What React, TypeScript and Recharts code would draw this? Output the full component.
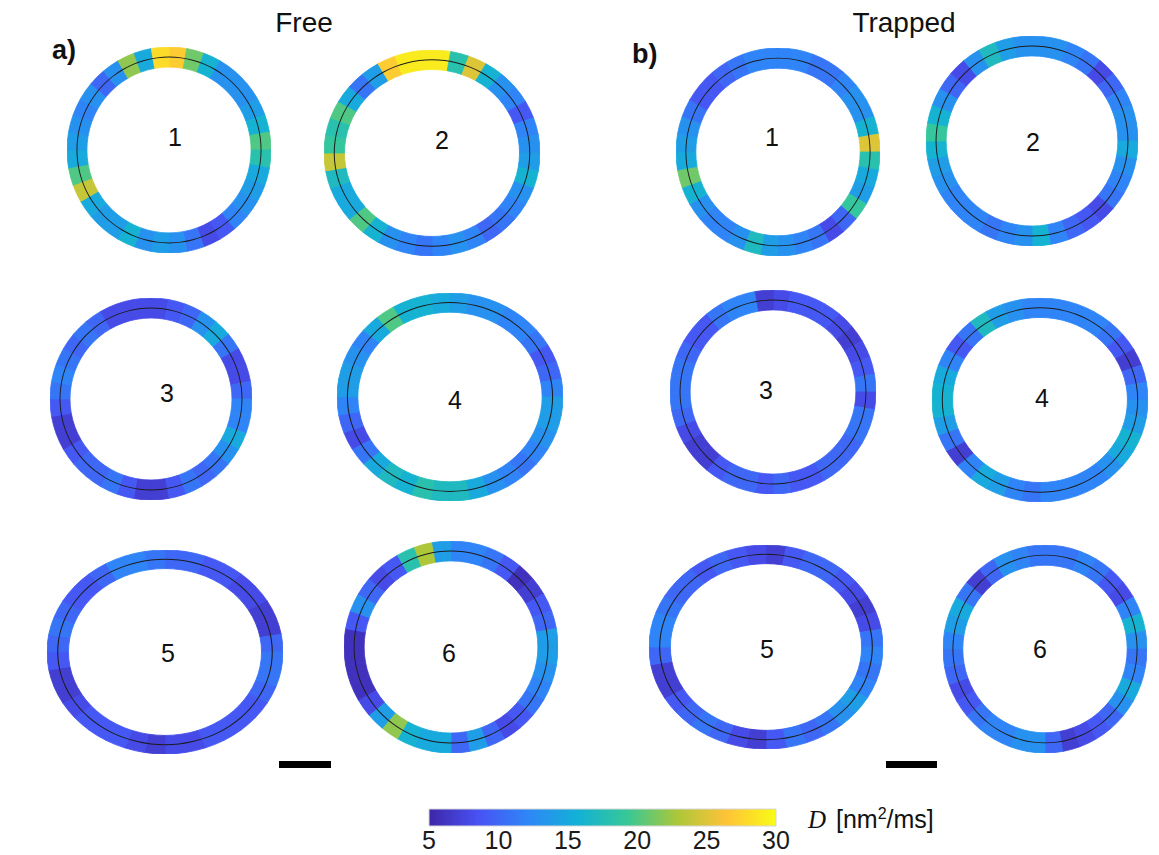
import { PieChart, Pie, Cell, BarChart, Bar, XAxis, YAxis } from "recharts";

// D (nm²/ms) read along each membrane, one value per 10°, clockwise from 12 o'clock
const free1 = [27, 21, 16, 13, 13, 13, 14, 16, 20, 18, 15, 14, 13, 12, 9, 8, 11, 13, 14, 13, 16, 14, 14, 15, 24, 20, 15, 14, 13, 12, 13, 10, 13, 22, 15, 28];
const free2 = [29, 18, 25, 16, 13, 12, 9, 12, 13, 14, 16, 13, 12, 11, 10, 12, 13, 12, 11, 12, 13, 16, 20, 15, 15, 17, 24, 19, 18, 20, 15, 11, 14, 27, 29, 29];
const free3 = [8, 9, 10, 13, 15, 11, 8, 8, 10, 12, 12, 15, 13, 11, 10, 11, 9, 7, 7, 9, 11, 10, 10, 9, 7, 7, 9, 11, 12, 11, 10, 11, 10, 8, 8, 8];
const free4 = [14, 13, 13, 12, 12, 11, 9, 10, 12, 14, 14, 13, 12, 11, 12, 13, 15, 17, 17, 18, 16, 17, 15, 11, 8, 10, 12, 14, 14, 13, 12, 15, 20, 16, 16, 15];
const free5 = [10, 10, 9, 9, 8, 8, 7, 7, 10, 11, 11, 10, 9, 9, 9, 9, 8, 8, 7, 8, 9, 9, 9, 8, 7, 7, 9, 10, 11, 10, 9, 9, 10, 12, 12, 11];
const free6 = [12, 12, 11, 9, 6, 7, 9, 10, 14, 14, 13, 12, 11, 9, 8, 10, 14, 10, 15, 15, 16, 22, 14, 8, 6, 6, 6, 6, 9, 13, 10, 8, 9, 18, 23, 14];

const trapped1 = [12, 12, 11, 11, 12, 13, 13, 16, 25, 18, 15, 14, 19, 10, 8, 11, 12, 13, 14, 17, 13, 12, 12, 13, 16, 21, 15, 14, 13, 11, 9, 9, 10, 11, 12, 12];
const trapped2 = [13, 13, 12, 11, 8, 10, 12, 13, 13, 15, 13, 12, 11, 8, 9, 10, 12, 16, 13, 12, 11, 12, 12, 12, 13, 14, 16, 19, 16, 13, 10, 8, 13, 17, 14, 13];
const trapped3 = [8, 9, 9, 9, 8, 7, 8, 9, 11, 8, 11, 11, 10, 10, 10, 9, 9, 10, 9, 10, 10, 9, 7, 7, 8, 10, 11, 11, 11, 10, 9, 9, 11, 12, 12, 7];
const trapped4 = [12, 12, 12, 12, 11, 9, 7, 10, 12, 13, 14, 16, 15, 13, 12, 12, 12, 12, 11, 12, 14, 15, 12, 7, 11, 14, 16, 16, 15, 12, 9, 11, 17, 14, 13, 12];
const trapped5 = [7, 9, 10, 10, 9, 8, 7, 8, 11, 12, 11, 12, 14, 13, 11, 10, 11, 9, 7, 8, 10, 11, 10, 9, 7, 7, 10, 12, 12, 11, 10, 10, 9, 10, 9, 8];
const trapped6 = [11, 11, 12, 11, 9, 8, 12, 16, 13, 11, 12, 15, 13, 10, 9, 8, 7, 10, 13, 13, 12, 12, 11, 9, 8, 10, 11, 12, 14, 15, 11, 7, 10, 13, 12, 11];

const cellLabels = ["1", "2", "3", "4", "5", "6"];
const cbTicks = [5, 10, 15, 20, 25, 30];
const cbInnerTicks = [10, 15, 20, 25];
const D_MIN = 5;
const D_MAX = 30;

// parula(8)
const parula = [
  [62, 38, 168],
  [72, 82, 244],
  [46, 135, 247],
  [18, 177, 214],
  [55, 200, 151],
  [171, 199, 57],
  [254, 195, 56],
  [249, 251, 21],
];

function parulaColor(d: number) {
  const t = Math.min(1, Math.max(0, (d - D_MIN) / (D_MAX - D_MIN))) * (parula.length - 1);
  const i = Math.min(parula.length - 2, Math.floor(t));
  const f = t - i;
  const c = parula[i].map((v, k) => Math.round(v + (parula[i + 1][k] - v) * f));
  return `rgb(${c[0]},${c[1]},${c[2]})`;
}

// where each cell sits on the page (outer size of the membrane band)
const ringLayout = [
  { values: free1, cx: 169, cy: 150, rx: 102, ry: 103, lx: 175, ly: 137 },
  { values: free2, cx: 432, cy: 153, rx: 108, ry: 103, lx: 442, ly: 140 },
  { values: free3, cx: 151, cy: 399, rx: 101, ry: 101, lx: 167, ly: 393 },
  { values: free4, cx: 450, cy: 397, rx: 113, ry: 104, lx: 455, ly: 400 },
  { values: free5, cx: 165, cy: 652, rx: 118, ry: 102, lx: 168, ly: 653 },
  { values: free6, cx: 451, cy: 647, rx: 107, ry: 106, lx: 449, ly: 653 },
  { values: trapped1, cx: 778, cy: 152, rx: 102, ry: 104, lx: 772, ly: 137 },
  { values: trapped2, cx: 1032, cy: 141, rx: 106, ry: 105, lx: 1033, ly: 142 },
  { values: trapped3, cx: 773, cy: 392, rx: 103, ry: 102, lx: 766, ly: 390 },
  { values: trapped4, cx: 1040, cy: 400, rx: 108, ry: 102, lx: 1042, ly: 398 },
  { values: trapped5, cx: 766, cy: 647, rx: 117, ry: 102, lx: 767, ly: 649 },
  { values: trapped6, cx: 1045, cy: 649, rx: 102, ry: 104, lx: 1040, ly: 649 },
];

const BAND = 20;
const R = 100;
const FONT = "'Liberation Sans', Arial, sans-serif";

function Ring({ values, cx, cy, rx, ry }: { values: number[]; cx: number; cy: number; rx: number; ry: number }) {
  const s = (rx + ry) / 2 / R;
  const inner = R - BAND / s;
  const mid = (R + inner) / 2;
  const data = values.map((d, i) => ({ seg: i, D: d, w: 1 }));
  return (
    <div
      style={{
        position: "absolute",
        left: cx - R,
        top: cy - R,
        width: 2 * R,
        height: 2 * R,
        transform: `scale(${rx / R}, ${ry / R})`,
        transformOrigin: "50% 50%",
      }}
    >
      <PieChart width={2 * R} height={2 * R} margin={{ top: 0, right: 0, bottom: 0, left: 0 }}>
        <Pie
          data={data}
          dataKey="w"
          cx={R}
          cy={R}
          innerRadius={inner}
          outerRadius={R}
          startAngle={90}
          endAngle={-270}
          paddingAngle={0}
          isAnimationActive={false}
        >
          {data.map((p) => (
            <Cell key={p.seg} fill={parulaColor(p.D)} stroke={parulaColor(p.D)} strokeWidth={0.8} />
          ))}
        </Pie>
        <Pie
          data={[{ w: 1 }]}
          dataKey="w"
          cx={R}
          cy={R}
          innerRadius={mid - 0.45}
          outerRadius={mid + 0.45}
          startAngle={90}
          endAngle={-270}
          fill="#1c1c1c"
          stroke="none"
          isAnimationActive={false}
        />
      </PieChart>
    </div>
  );
}

function Colorbar() {
  const data = [{ name: "D", span: [D_MIN, D_MAX] }];
  return (
    <div style={{ position: "absolute", left: 0, top: 780 }}>
      <BarChart
        layout="vertical"
        width={1159}
        height={75}
        data={data}
        barCategoryGap={0}
        margin={{ top: 29, right: 383, bottom: 0, left: 429 }}
      >
        <defs>
          <linearGradient id="parulaGrad" x1="0" y1="0" x2="1" y2="0">
            {parula.map((c, i) => (
              <stop key={i} offset={`${(i / (parula.length - 1)) * 100}%`} stopColor={`rgb(${c[0]},${c[1]},${c[2]})`} />
            ))}
          </linearGradient>
        </defs>
        <YAxis type="category" dataKey="name" hide />
        <XAxis
          xAxisId="marks"
          type="number"
          domain={[D_MIN, D_MAX]}
          ticks={cbInnerTicks}
          interval={0}
          mirror
          axisLine={false}
          tick={false}
          tickSize={3}
          tickLine={{ stroke: "#333" }}
          height={0}
        />
        <XAxis
          type="number"
          domain={[D_MIN, D_MAX]}
          ticks={cbTicks}
          interval={0}
          axisLine={false}
          tickLine={false}
          tickSize={4}
          tickMargin={1}
          height={29}
          tick={{ fontSize: 25, fill: "#1a1a1a", fontFamily: FONT }}
        />
        <Bar dataKey="span" fill="url(#parulaGrad)" stroke="#d6d6d6" strokeWidth={1} isAnimationActive={false} />
      </BarChart>
    </div>
  );
}

export default function App() {
  return (
    <div style={{ position: "absolute", left: 0, top: 0, width: 1159, height: 855, background: "#fff", overflow: "hidden" }}>
      {ringLayout.map((r, i) => (
        <Ring key={i} values={r.values} cx={r.cx} cy={r.cy} rx={r.rx} ry={r.ry} />
      ))}
      <Colorbar />
      <svg width={1159} height={855} style={{ position: "absolute", left: 0, top: 0, pointerEvents: "none" }}>
        <g fontFamily={FONT} fill="#111">
          <text x={304} y={32} fontSize={28} textAnchor="middle">Free</text>
          <text x={904} y={32} fontSize={28} textAnchor="middle">Trapped</text>
          <text x={52} y={59} fontSize={27} fontWeight="bold">a)</text>
          <text x={632} y={63} fontSize={27} fontWeight="bold">b)</text>
          {ringLayout.map((r, i) => (
            <text key={i} x={r.lx} y={r.ly + 9} fontSize={25} textAnchor="middle">
              {cellLabels[i % 6]}
            </text>
          ))}
          <text x={808} y={828} fontSize={25} fontFamily="'Liberation Serif', 'Times New Roman', serif" fontStyle="italic">D</text>
          <text x={836} y={828} fontSize={25}>
            [nm<tspan dy={-9} fontSize={16}>2</tspan><tspan dy={9}>/ms]</tspan>
          </text>
        </g>
        <rect x={279} y={761} width={52} height={7} fill="#000" />
        <rect x={886} y={761} width={51} height={7} fill="#000" />
      </svg>
    </div>
  );
}
